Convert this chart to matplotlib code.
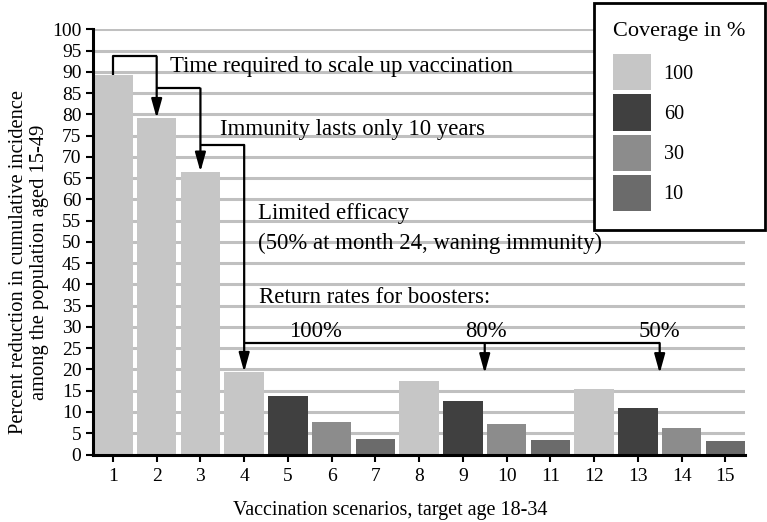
import matplotlib
matplotlib.use("Agg")
import matplotlib.pyplot as plt
from matplotlib.patches import Patch

plt.rcParams['font.family'] = ['Liberation Serif', 'DejaVu Serif']

scenarios = list(range(1, 16))
values = [89.2, 79.1, 66.5, 19.4, 13.7, 7.7, 3.7, 17.4, 12.5, 7.2, 3.4, 15.4, 11.0, 6.2, 3.1]
coverage = [100, 100, 100, 100, 60, 30, 10, 100, 60, 30, 10, 100, 60, 30, 10]
coverage_levels = [100, 60, 30, 10]
coverage_colors = {100: '#c6c6c6', 60: '#404040', 30: '#8c8c8c', 10: '#6b6b6b'}
yticks = list(range(0, 101, 5))

xlabel = "Vaccination scenarios, target age 18-34"
ylabel = "Percent reduction in cumulative incidence\namong the population aged 15-49"
legend_title = "Coverage in %"

fig = plt.figure(figsize=(7.67, 5.22), dpi=100)
ax = fig.add_axes([0.1216, 0.1293, 0.9713 - 0.1216, 0.9439 - 0.1293])

colors = [coverage_colors[c] for c in coverage]
ax.bar(scenarios, values, width=0.9, color=colors, zorder=2)

ax.set_xlim(0.55, 15.45)
ax.set_ylim(0, 100)
ax.set_xticks(scenarios)
ax.set_yticks(yticks)
ax.yaxis.grid(True, color='#c0c0c0', linewidth=2.2, zorder=0)
ax.set_axisbelow(True)
for s in ['top', 'right']:
    ax.spines[s].set_visible(False)
for s in ['left', 'bottom']:
    ax.spines[s].set_linewidth(2.2)
    ax.spines[s].set_zorder(5)
ax.tick_params(direction='out', length=5, width=1.5, labelsize=14, pad=3.5)
ax.tick_params(axis='x', pad=5)

fig.text(390 / 767, 1 - 510 / 522, xlabel, fontsize=14.5, ha='center', va='center')
fig.text(29 / 767, 1 - 262 / 522, ylabel, fontsize=14.8, ha='center', va='center',
         rotation=90, multialignment='center', linespacing=1.1)

lw = 1.6
arrow_kw = dict(arrowstyle='-|>,head_length=1.15,head_width=0.32', color='black',
                lw=lw, shrinkA=0, shrinkB=0)

def connector(points, arrow_tips):
    xs = [p[0] for p in points]
    ys = [p[1] for p in points]
    ax.plot(xs, ys, color='black', lw=lw, zorder=4, solid_capstyle='butt')
    for (x0, y0, y1) in arrow_tips:
        ax.annotate('', xy=(x0, y1), xytext=(x0, y0), arrowprops=arrow_kw, zorder=4)

# scale-up connector
connector([(1, values[0]), (1, 93.6), (2, 93.6)], [(2, 93.6, values[1])])
# immunity connector
connector([(2, 86.1), (3, 86.1)], [(3, 86.1, values[2])])
# efficacy connector
connector([(3, 72.8), (4, 72.8)], [(4, 72.8, values[3])])
# boosters connector
connector([(4, 26.2), (13.5, 26.2)], [(9.5, 26.2, 19.1), (13.5, 26.2, 19.1)])

tfs = 16.4
ax.text(2.3, 91.3, "Time required to scale up vaccination", fontsize=tfs, va='center', ha='left', zorder=6)
ax.text(3.44, 76.4, "Immunity lasts only 10 years", fontsize=tfs, va='center', ha='left', zorder=6)
ax.text(4.31, 56.7, "Limited efficacy", fontsize=tfs, va='center', ha='left', zorder=6)
ax.text(4.31, 49.6, "(50% at month 24, waning immunity)", fontsize=tfs, va='center', ha='left', zorder=6)
ax.text(4.33, 36.9, "Return rates for boosters:", fontsize=tfs, va='center', ha='left', zorder=6)
ax.text(5.63, 29.0, "100%", fontsize=tfs, va='center', ha='center', zorder=6)
ax.text(9.52, 29.0, "80%", fontsize=tfs, va='center', ha='center', zorder=6)
ax.text(13.5, 29.0, "50%", fontsize=tfs, va='center', ha='center', zorder=6)

handles = [Patch(facecolor=coverage_colors[c], edgecolor='none', label=str(c)) for c in coverage_levels]
leg = fig.legend(handles=handles, title=legend_title, loc='upper right',
                 bbox_to_anchor=(765 / 767, 1 - 3 / 522), borderaxespad=0, fontsize=14.5,
                 title_fontsize=16, handlelength=1.84, handleheight=2.38,
                 labelspacing=0.2, handletextpad=0.65, borderpad=0.95,
                 fancybox=False, framealpha=1, edgecolor='black')
leg.get_frame().set_linewidth(2.0)
leg._legend_box.sep = 9.5
leg._legend_box.align = 'left'

fig.savefig("out.png", dpi=100)
